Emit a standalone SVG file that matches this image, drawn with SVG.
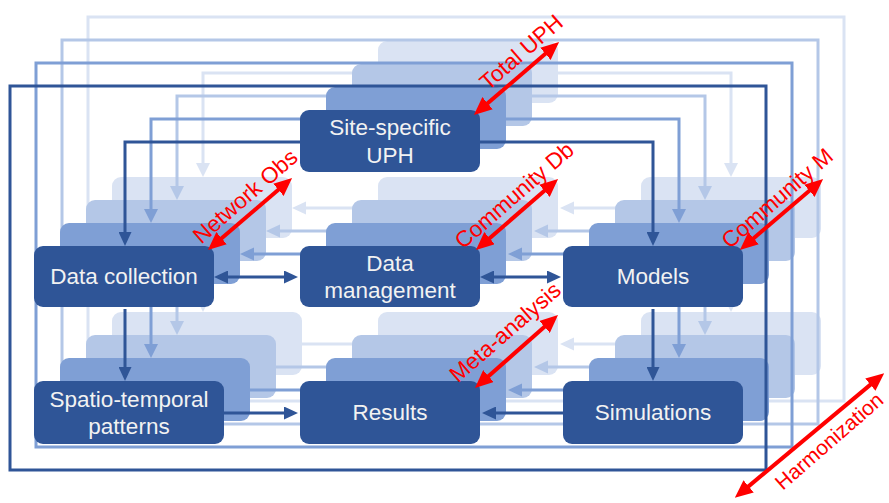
<svg xmlns="http://www.w3.org/2000/svg" xmlns:xlink="http://www.w3.org/1999/xlink" width="889" height="503" viewBox="0 0 889 503">
<style>
.frame{fill:none;stroke-width:3}
.con{fill:none;stroke-width:3}
.box{stroke:none}
.l0{fill:#2F5597}
.l0s{stroke:#2F5597}
.lbl{font-family:"Liberation Sans",Arial,sans-serif;font-size:22.5px;fill:#F2F2F2;text-anchor:middle}
.red{fill:none;stroke:#FF0000;stroke-width:4}
.rlbl{font-family:"Liberation Sans",Arial,sans-serif;font-size:22.5px;fill:#FF0000;text-anchor:middle}
</style>
<defs>
<marker id="ah0" viewBox="0 0 14 13" refX="6" refY="6.5" markerWidth="14" markerHeight="13" markerUnits="userSpaceOnUse" orient="auto-start-reverse">
<path d="M0,0 L14,6.5 L0,13 Z" fill="#2F5597"/>
</marker>
<marker id="ahr" viewBox="0 0 18 16" refX="8" refY="8" markerWidth="18" markerHeight="16" markerUnits="userSpaceOnUse" orient="auto-start-reverse">
<path d="M0,0 L18,8 L0,16 Z" fill="#FF0000"/>
</marker>
<g id="backLayer">
<rect x="10" y="86" width="756" height="384" fill="none" stroke="currentColor" stroke-width="3"/>
<g fill="none" stroke="currentColor" stroke-width="3">
<path d="M300,142 H125 V238"/>
<path d="M480,142 H653 V238"/>
<path d="M222,277 H290"/>
<path d="M488,277 H555"/>
<path d="M125,309 V373"/>
<path d="M653,309 V373"/>
<path d="M224,413 H290"/>
<path d="M563,413 H490"/>
</g>
<g fill="currentColor">
<path d="M118,232 L125,246 L132,232 Z"/>
<path d="M646,232 L653,246 L660,232 Z"/>
<path d="M228,270.5 L214,277 L228,283.5 Z"/>
<path d="M284,270.5 L298,277 L284,283.5 Z"/>
<path d="M496,270.5 L482,277 L496,283.5 Z"/>
<path d="M547,270.5 L561,277 L547,283.5 Z"/>
<path d="M118,367 L125,381 L132,367 Z"/>
<path d="M646,367 L653,381 L660,367 Z"/>
<path d="M284,406.5 L298,413 L284,419.5 Z"/>
<path d="M496,406.5 L482,413 L496,419.5 Z"/>
<rect x="300" y="110" width="180" height="62" rx="9"/>
<rect x="34" y="246" width="180" height="61" rx="9"/>
<rect x="300" y="246" width="180" height="61" rx="9"/>
<rect x="563" y="246" width="180" height="61" rx="9"/>
<rect x="34" y="381" width="190" height="63" rx="9"/>
<rect x="300" y="381" width="180" height="63" rx="9"/>
<rect x="563" y="381" width="180" height="63" rx="9"/>
</g>
</g>
</defs>
<g id="layer3"><use xlink:href="#backLayer" href="#backLayer" transform="translate(78,-69)" color="#DAE3F3"/></g>
<g id="layer2"><use xlink:href="#backLayer" href="#backLayer" transform="translate(52,-46)" color="#B4C7E7"/></g>
<g id="layer1"><use xlink:href="#backLayer" href="#backLayer" transform="translate(26,-23)" color="#7F9FD5"/></g>
<g id="frame0"><rect class="frame l0s" x="10" y="86" width="756" height="384"/></g>
<g id="connectors">
<path class="con l0s" d="M300,142 H125 V238" marker-end="url(#ah0)"/>
<path class="con l0s" d="M480,142 H653 V238" marker-end="url(#ah0)"/>
<path class="con l0s" d="M222,277 H290" marker-start="url(#ah0)" marker-end="url(#ah0)"/>
<path class="con l0s" d="M488,277 H553" marker-start="url(#ah0)" marker-end="url(#ah0)"/>
<path class="con l0s" d="M125,309 V373" marker-end="url(#ah0)"/>
<path class="con l0s" d="M653,309 V373" marker-end="url(#ah0)"/>
<path class="con l0s" d="M224,413 H290" marker-end="url(#ah0)"/>
<path class="con l0s" d="M563,413 H490" marker-end="url(#ah0)"/>
</g>
<g id="site-specific-uph"><rect class="box l0" x="300" y="110" width="180" height="62" rx="9"/><text class="lbl" x="390" y="135">Site-specific</text><text class="lbl" x="390" y="163">UPH</text></g>
<g id="data-collection"><rect class="box l0" x="34" y="246" width="180" height="61" rx="9"/><text class="lbl" x="124" y="284">Data collection</text></g>
<g id="data-management"><rect class="box l0" x="300" y="246" width="180" height="61" rx="9"/><text class="lbl" x="390" y="271">Data</text><text class="lbl" x="390" y="298">management</text></g>
<g id="models"><rect class="box l0" x="563" y="246" width="180" height="61" rx="9"/><text class="lbl" x="653" y="284">Models</text></g>
<g id="spatio-temporal-patterns"><rect class="box l0" x="34" y="381" width="190" height="63" rx="9"/><text class="lbl" x="129" y="407">Spatio-temporal</text><text class="lbl" x="129" y="434">patterns</text></g>
<g id="results"><rect class="box l0" x="300" y="381" width="180" height="63" rx="9"/><text class="lbl" x="390" y="420">Results</text></g>
<g id="simulations"><rect class="box l0" x="563" y="381" width="180" height="63" rx="9"/><text class="lbl" x="653" y="420">Simulations</text></g>
<g id="scale-arrows">
<path class="red" d="M481.5,108.4 L551.5,48.6" marker-start="url(#ahr)" marker-end="url(#ahr)"/>
<path class="red" d="M215.5,243.4 L284.5,184.6" marker-start="url(#ahr)" marker-end="url(#ahr)"/>
<path class="red" d="M483.5,243.4 L550.5,185.6" marker-start="url(#ahr)" marker-end="url(#ahr)"/>
<path class="red" d="M747.5,243.4 L815.5,185.6" marker-start="url(#ahr)" marker-end="url(#ahr)"/>
<path class="red" d="M482.5,381.4 L550.5,321.6" marker-start="url(#ahr)" marker-end="url(#ahr)"/>
<path class="red" d="M742.5,491.4 L876.5,379.6" marker-start="url(#ahr)" marker-end="url(#ahr)"/>
<text class="rlbl" transform="translate(526.2,58) rotate(-41)">Total UPH</text>
<text class="rlbl" transform="translate(250.2,202) rotate(-41)">Network Obs</text>
<text class="rlbl" transform="translate(519.2,201) rotate(-41)">Community Db</text>
<text class="rlbl" transform="translate(782.2,204) rotate(-41)">Community M</text>
<text class="rlbl" transform="translate(510.2,338) rotate(-41)">Meta-analysis</text>
<text class="rlbl" style="font-size:21px" transform="translate(833.8,446.6) rotate(-41)">Harmonization</text>
</g>
</svg>
